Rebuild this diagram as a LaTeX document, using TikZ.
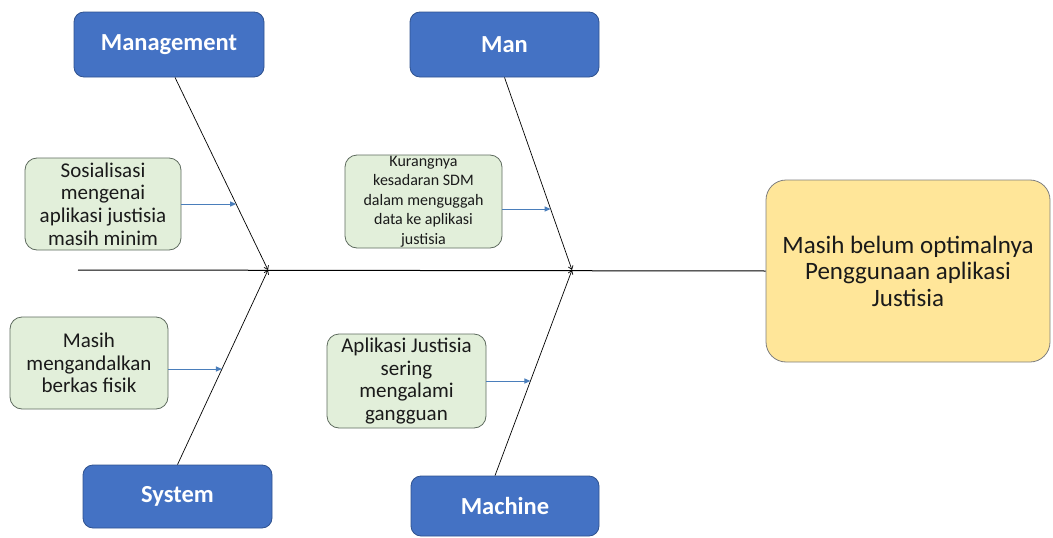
\documentclass[tikz,border=0pt]{standalone}
\usepackage{fontspec}
\setmainfont{Carlito}
\usetikzlibrary{arrows.meta,intersections,calc}
\definecolor{hdrblue}{HTML}{4472C4}
\definecolor{hdrborder}{HTML}{2F528F}
\definecolor{causefill}{HTML}{E2EFDA}
\definecolor{causeborder}{HTML}{5E6B5E}
\definecolor{effectfill}{HTML}{FFE699}
\definecolor{effectborder}{HTML}{7F7F7F}
\definecolor{txt}{HTML}{1A1A1A}
\definecolor{arrowblue}{HTML}{4A7EBB}
\begin{document}
\begin{tikzpicture}[x=1pt,y=-1pt,
  header/.style={draw=hdrborder, fill=hdrblue, rounded corners=10pt, text=white,
    font=\fontsize{24.5}{28}\selectfont\bfseries, inner sep=0pt, line width=0.8pt},
  cause/.style={draw=causeborder, fill=causefill, rounded corners=12pt, text=txt,
    align=center, inner sep=0pt, line width=0.8pt},
  causefont/.style={font=\fontsize{21}{22.7}\selectfont},
  smallfont/.style={font=\fontsize{16}{19.5}\selectfont},
  effect/.style={draw=effectborder, fill=effectfill, rounded corners=20pt, text=txt,
    align=center, inner sep=0pt, line width=0.8pt, font=\fontsize{25}{26.5}\selectfont},
  bone/.style={draw=black, line width=0.7pt, -{Straight Barb[length=3.5pt,width=5pt]}},
  spine/.style={draw=black, line width=1pt},
  causearrow/.style={draw=arrowblue, line width=1pt, -{Triangle[length=6pt,width=5pt]}}
]
\useasboundingbox (0,0) rectangle (1053,538);

% header boxes
\node[header, minimum width=190pt, minimum height=65pt] (mgmt) at (169,44.5) {Management};
\node[header, minimum width=189pt, minimum height=65pt] (man) at (504.5,44.5) {Man};
\node[header, minimum width=189pt, minimum height=63pt] (sys) at (177.5,496.5) {System};
\node[header, minimum width=188pt, minimum height=60pt] (mach) at (505,506) {Machine};

% effect
\node[effect, minimum width=284pt, minimum height=182pt] (eff) at (908,271)
  {Masih belum optimalnya\\Penggunaan aplikasi\\Justisia};

% cause boxes
\node[cause, causefont, minimum width=156pt, minimum height=92pt] (sos) at (103,204)
  {Sosialisasi\\mengenai\\aplikasi justisia\\masih minim};
\node[cause, smallfont, minimum width=157pt, minimum height=93pt] (kur) at (423.5,201.5)
  {Kurangnya\\kesadaran SDM\\dalam menguggah\\data ke aplikasi\\justisia};
\node[cause, causefont, minimum width=158pt, minimum height=92pt] (msh) at (89,363)
  {Masih\\mengandalkan\\berkas fisik};
\node[cause, causefont, minimum width=159pt, minimum height=94pt] (apl) at (406.5,381)
  {Aplikasi Justisia\\sering\\mengalami\\gangguan};

% spine
\coordinate (tail) at (78,270);
\coordinate (J1) at (268,270);
\coordinate (J2) at (572,270);
\draw[spine] (tail) -- (eff.west);

% bones
\draw[bone, name path=b1] ([xshift=6pt]mgmt.south) -- (J1);
\draw[bone, name path=b2] (man.south) -- (J2);
\draw[bone, name path=b3] (sys.north) -- (J1);
\draw[bone, name path=b4] ([xshift=-10pt]mach.north) -- (J2);

% cause arrows
\path[name path=h1] (sos.east) -- ++(150,0);
\path[name intersections={of=h1 and b1, by={p1}}];
\draw[causearrow] (sos.east) -- (p1);

\path[name path=h2] ([yshift=-7.5pt]kur.east) -- ++(150,0);
\path[name intersections={of=h2 and b2, by={p2}}];
\draw[causearrow] ([yshift=-7.5pt]kur.east) -- (p2);

\path[name path=h3] ([yshift=-6pt]msh.east) -- ++(150,0);
\path[name intersections={of=h3 and b3, by={p3}}];
\draw[causearrow] ([yshift=-6pt]msh.east) -- (p3);

\path[name path=h4] (apl.east) -- ++(150,0);
\path[name intersections={of=h4 and b4, by={p4}}];
\draw[causearrow] (apl.east) -- (p4);
\end{tikzpicture}
\end{document}
